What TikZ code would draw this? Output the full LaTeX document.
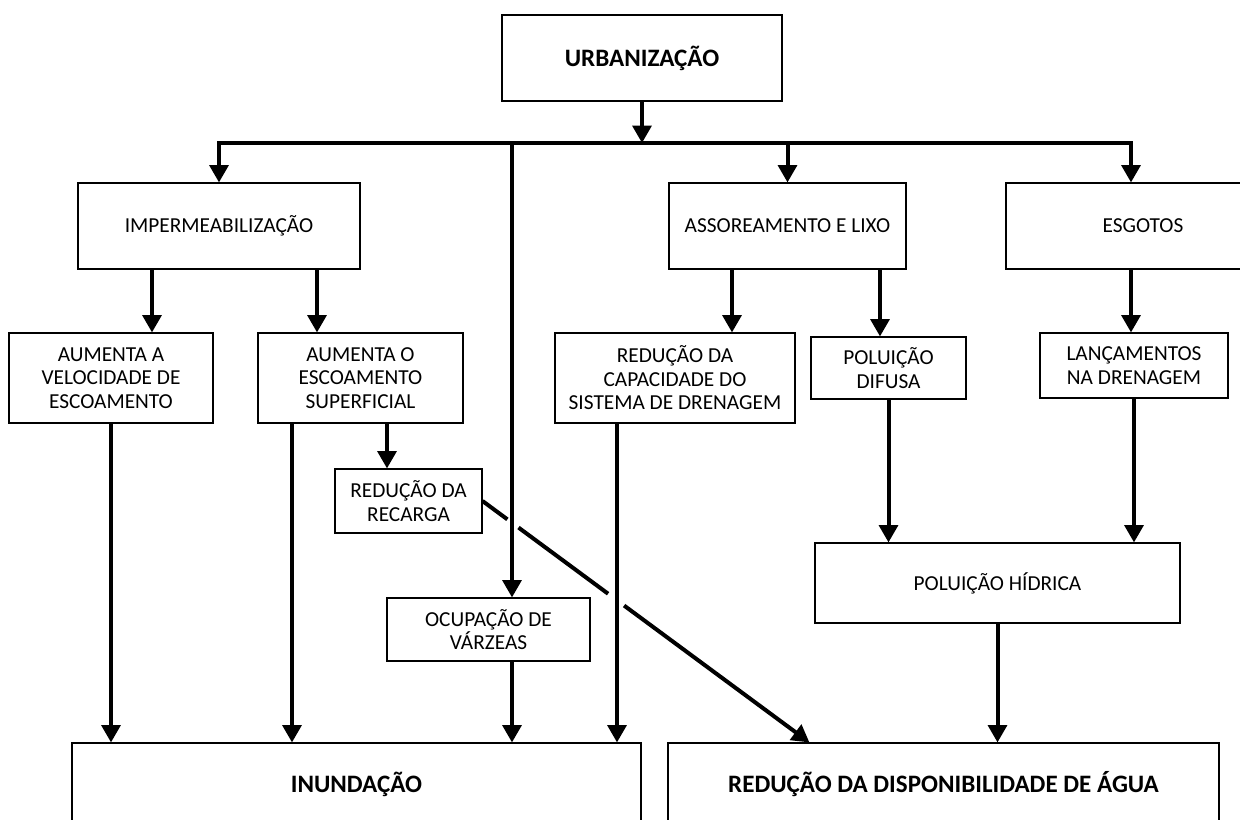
\documentclass[tikz,border=0pt]{standalone}
\usepackage{fontspec}
\setmainfont{Carlito}
\usetikzlibrary{arrows.meta,calc}
\begin{document}
\begin{tikzpicture}[x=0.75pt,y=-0.75pt,
  box/.style={draw, line width=0.8pt, align=center, inner sep=0pt,
    font=\fontsize{16}{17.6}\selectfont},
  bbox/.style={box, font=\fontsize{18.8}{21}\selectfont\bfseries},
  conn/.style={line width=3pt},
  arr/.style={conn, -{Triangle[width=14pt,length=13pt]}},
]
\useasboundingbox (0,0) rectangle (1240,820);
\clip (0,0) rectangle (1240,820);

% boxes (centres and sizes in px; sizes converted to pt)
\node[bbox, minimum width=210pt, minimum height=64.5pt] (urb) at (642,58) {URBANIZAÇÃO};
\node[box, minimum width=211.5pt, minimum height=64.5pt] (imp) at (219,226) {IMPERMEABILIZAÇÃO};
\node[box, minimum width=177.75pt, minimum height=64.5pt] (ass) at (787.5,226) {ASSOREAMENTO E LIXO};
\node[box, minimum width=205.5pt, minimum height=64.5pt] (esg) at (1143,226) {ESGOTOS};
\node[box, minimum width=153pt, minimum height=67.5pt] (vel) at (111,378) {AUMENTA A\\VELOCIDADE DE\\ESCOAMENTO};
\node[box, minimum width=153.75pt, minimum height=67.5pt] (esc) at (360.5,378) {AUMENTA O\\ESCOAMENTO\\SUPERFICIAL};
\node[box, minimum width=180pt, minimum height=67.5pt] (cap) at (675,378) {REDUÇÃO DA\\CAPACIDADE DO\\SISTEMA DE DRENAGEM};
\node[box, minimum width=116.25pt, minimum height=46.5pt] (dif) at (888.5,368) {POLUIÇÃO\\DIFUSA};
\node[box, minimum width=141pt, minimum height=48.75pt] (lan) at (1134,365.5) {LANÇAMENTOS\\NA DRENAGEM};
\node[box, minimum width=110.25pt, minimum height=48pt] (rec) at (408.5,501) {REDUÇÃO DA\\RECARGA};
\node[box, minimum width=152.25pt, minimum height=47.25pt] (ocu) at (488.5,629.5) {OCUPAÇÃO DE\\VÁRZEAS};
\node[box, minimum width=273.75pt, minimum height=60pt] (hid) at (997.5,583) {POLUIÇÃO HÍDRICA};
\node[bbox, minimum width=426.75pt, minimum height=61.5pt] (inu) at (356.5,784) {INUNDAÇÃO};
\node[bbox, minimum width=413.25pt, minimum height=61.5pt] (dis) at (943.5,784) {REDUÇÃO DA DISPONIBILIDADE DE ÁGUA};

% distribution bar
\coordinate (bar) at (642,143);
\coordinate (br3) at (512,143);
\coordinate (br5) at (1131,143);
\draw[arr] (urb.south) -- (urb.south |- bar);
\draw[conn, line cap=rect] (imp.north |- bar) -- (br5);
\draw[arr] (imp.north |- bar) -- (imp.north);
\draw[arr] (ass.north |- bar) -- (ass.north);
\draw[arr] (br5) -- (br5 |- esg.north);

% helper columns
\coordinate (k1) at ($(imp.south)+(-67,0)$);
\coordinate (k2) at ($(imp.south)+(98,0)$);
\coordinate (k3) at ($(esc.south)+(-68.5,0)$);
\coordinate (k4) at ($(esc.south)+(26.5,0)$);
\coordinate (k5) at ($(cap.south)+(-58,0)$);
\coordinate (k6) at ($(ass.south)+(-55.5,0)$);
\coordinate (k7) at ($(ass.south)+(92.5,0)$);
\coordinate (dt) at ($(dis.north west)+(142,0)$);

% diagonal with gaps at crossings
\path (rec.east) -- (dt)
  coordinate[pos=0.076] (g1a) coordinate[pos=0.110] (g1b)
  coordinate[pos=0.384] (g2a) coordinate[pos=0.433] (g2b);
\draw[conn] (rec.east) -- (g1a);
\draw[conn] (g1b) -- (g2a);
\draw[arr] (g2b) -- (dt);

% connectors
\draw[arr] (k1) -- (k1 |- vel.north);
\draw[arr] (k2) -- (k2 |- esc.north);
\draw[arr] (k6) -- (k6 |- cap.north);
\draw[arr] (k7) -- (k7 |- dif.north);
\draw[arr] (br5 |- esg.south) -- (br5 |- lan.north);
\draw[arr] (k4) -- (k4 |- rec.north);
\draw[arr] (br3) -- (br3 |- ocu.north);
\draw[arr] (vel.south) -- (vel.south |- inu.north);
\draw[arr] (k3) -- (k3 |- inu.north);
\draw[arr] (br3 |- ocu.south) -- (br3 |- inu.north);
\draw[arr] (k5) -- (k5 |- inu.north);
\draw[arr] (dif.south) -- (dif.south |- hid.north);
\draw[arr] (lan.south) -- (lan.south |- hid.north);
\draw[arr] (hid.south) -- (hid.south |- dis.north);
\end{tikzpicture}
\end{document}
